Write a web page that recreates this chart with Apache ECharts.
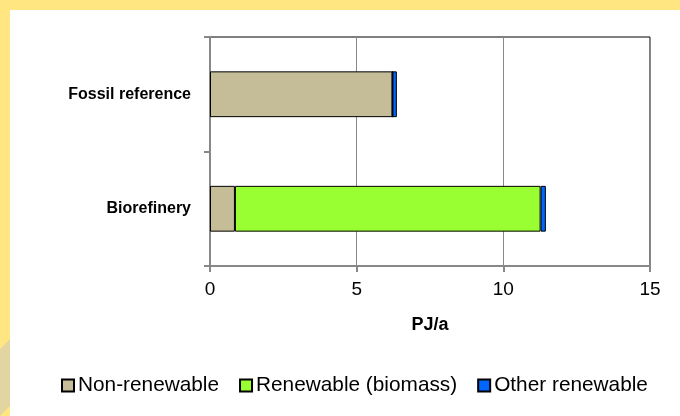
<!DOCTYPE html>
<html>
<head>
<meta charset="utf-8">
<script src="https://cdn.jsdelivr.net/npm/echarts@6/dist/echarts.min.js"></script>
<style>
  html, body { margin: 0; padding: 0; }
  #chart { width: 680px; height: 416px; }
</style>
</head>
<body>
<div id="chart"></div>
<script>
const categories = ['Fossil reference', 'Biorefinery'];
const nonRenewable = [6.22, 0.85];
const renewableBiomass = [0, 10.42];
const otherRenewable = [0.15, 0.18];
const xTicks = { min: 0, max: 15, interval: 5 };

const fontFamily = "'Liberation Sans', Arial, sans-serif";

const chart = echarts.init(document.getElementById('chart'));

const makeSeries = (name, values, color) => ({
  name,
  type: 'bar',
  stack: 'total',
  data: values,
  barCategoryGap: '60%',
  itemStyle: {
    color,
    borderColor: '#000',
    borderWidth: 1
  },
  emphasis: { disabled: true }
});

chart.setOption({
  backgroundColor: '#FFE680',
  animation: false,
  textStyle: { fontFamily },
  graphic: [
    // white page on the yellow frame
    { type: 'rect', shape: { x: 10, y: 10, width: 670, height: 406 }, style: { fill: '#fff' }, z: -10 },
    // beige stripe on the left frame edge
    { type: 'polygon', shape: { points: [[10, 339], [10, 406], [0, 416], [0, 349]] }, style: { fill: '#E2D5A2' }, z: -10 }
  ],
  grid: {
    left: 210,
    right: 30,
    top: 37,
    bottom: 150,
    show: true,
    borderColor: '#000',
    borderWidth: 1,
    backgroundColor: 'transparent'
  },
  legend: {
    top: 370,
    left: 56,
    icon: 'rect',
    itemWidth: 12,
    itemHeight: 12,
    itemGap: 20,
    textStyle: { fontSize: 20.8, color: '#000', fontFamily, padding: [0, 0, 0, -1] },
    data: ['Non-renewable', 'Renewable (biomass)', 'Other renewable']
  },
  xAxis: {
    type: 'value',
    min: xTicks.min,
    max: xTicks.max,
    interval: xTicks.interval,
    name: 'PJ/a',
    nameLocation: 'middle',
    nameGap: 50,
    nameTextStyle: { fontSize: 18, fontWeight: 'bold', color: '#000', fontFamily },
    axisLine: { show: true, lineStyle: { color: '#888', width: 2 } },
    axisTick: { show: true, length: 6, lineStyle: { color: '#888', width: 2 } },
    axisLabel: { fontSize: 19, color: '#000', margin: 14, fontFamily },
    splitLine: { show: true, lineStyle: { color: '#888', width: 1 } }
  },
  yAxis: {
    type: 'category',
    inverse: true,
    data: categories,
    axisLine: { show: true, lineStyle: { color: '#888', width: 2 } },
    axisTick: { show: true, length: 6, lineStyle: { color: '#888', width: 2 } },
    axisLabel: { fontSize: 16, fontWeight: 'bold', color: '#000', margin: 19, fontFamily }
  },
  series: [
    makeSeries('Non-renewable', nonRenewable, '#C4BD97'),
    makeSeries('Renewable (biomass)', renewableBiomass, '#99FF33'),
    makeSeries('Other renewable', otherRenewable, '#0066FF')
  ]
});
</script>
</body>
</html>
